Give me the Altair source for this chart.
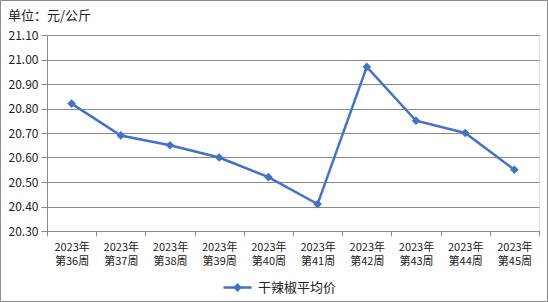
import altair as alt
import pandas as pd

weeks = ["2023年\n第36周", "2023年\n第37周", "2023年\n第38周", "2023年\n第39周", "2023年\n第40周",
         "2023年\n第41周", "2023年\n第42周", "2023年\n第43周", "2023年\n第44周", "2023年\n第45周"]
prices = [20.82, 20.69, 20.65, 20.60, 20.52, 20.41, 20.97, 20.75, 20.70, 20.55]
series_name = "干辣椒平均价"
unit_title = "单位：元/公斤"
y_ticks = [20.3, 20.4, 20.5, 20.6, 20.7, 20.8, 20.9, 21.0, 21.1]

df = pd.DataFrame({"week": weeks, "price": prices, "series": [series_name] * len(weeks)})

FONT = "Noto Sans CJK SC"
BLUE = "#4472C4"
GRID = "#8a8a8a"

line = alt.Chart(df).mark_line(
    color=BLUE, strokeWidth=2.5,
    point=alt.OverlayMarkDef(shape="diamond", size=75, filled=True, color=BLUE, opacity=1),
).encode(
    x=alt.X("week:N", sort=weeks, title=None,
            scale=alt.Scale(paddingInner=0, paddingOuter=0),
            axis=alt.Axis(labelAngle=0, tickBand="extent", labelExpr="split(datum.label, '\\n')",
                          labelFont=FONT, labelFontSize=11, labelColor="#222222", labelLineHeight=14,
                          labelPadding=5, tickSize=5, tickColor=GRID, domainColor=GRID, grid=False,
                          labelBaseline="top")),
    y=alt.Y("price:Q", title=None,
            scale=alt.Scale(domain=[20.3, 21.1], zero=False, nice=False),
            axis=alt.Axis(values=y_ticks, format=".2f", labelFont=FONT, labelFontSize=12,
                          labelColor="#222222", labelPadding=3, tickSize=6, tickColor=GRID,
                          domainColor=GRID, gridColor=GRID, grid=True)),
    color=alt.Color("series:N", scale=alt.Scale(range=[BLUE]), title=None,
                    legend=alt.Legend(orient="none", legendX=175, legendY=237,
                                      symbolType="M-1,0L1,0M0,-0.19L0.19,0L0,0.19L-0.19,0Z",
                                      symbolSize=784, symbolStrokeWidth=2.5,
                                      symbolFillColor=BLUE, symbolStrokeColor=BLUE,
                                      labelFont=FONT, labelFontSize=13, labelColor="#222222",
                                      labelOffset=5)),
)

border = alt.Chart(pd.DataFrame({"a": [0]})).mark_rect(
    fill=None, stroke="#8a8a8a", strokeWidth=1, clip=False
).encode(
    x=alt.value(-46.5), x2=alt.value(500.5), y=alt.value(-34.5), y2=alt.value(266.5)
)

title = alt.Chart(pd.DataFrame({"t": [unit_title]})).mark_text(
    font=FONT, fontSize=13, color="#222222", align="left", baseline="middle", clip=False
).encode(
    text="t:N", x=alt.value(-39), y=alt.value(-19)
)

chart = alt.layer(border, title, line).properties(
    width=492, height=196,
    autosize=alt.AutoSizeParams(type="none"),
    padding={"left": 47, "top": 35, "right": 9, "bottom": 71},
).configure_view(stroke=None).configure(background="white")

chart.save("out.html", embed_options={"renderer": "svg", "actions": False})
